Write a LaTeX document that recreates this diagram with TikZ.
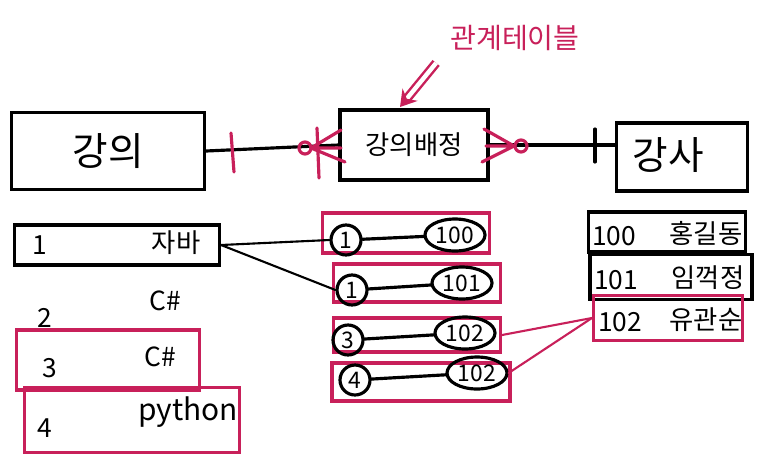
\documentclass[tikz,border=0pt]{standalone}
\usepackage{fontspec}
\setmainfont{Noto Sans CJK KR}
\usetikzlibrary{arrows.meta,shapes.geometric}
\definecolor{marker}{HTML}{C8205A}

\tikzset{
  pen/.style={line width=1.8pt, line cap=round},
  hl/.style={draw=marker, line width=1.8pt, line cap=round},
  entbox/.style={draw, pen, inner sep=0pt},
  rowbox/.style={draw, pen, inner sep=0pt},
  markbox/.style={hl, inner sep=0pt},
  celltxt/.style={font=\fontsize{15}{17}\selectfont, inner sep=0pt},
  keyring/.style={draw, pen, ellipse, inner sep=0pt, minimum width=0.6cm,
    minimum height=0.6cm, font=\fontsize{13}{15}\selectfont},
  valring/.style={draw, pen, ellipse, inner sep=0pt, minimum width=1.2cm,
    minimum height=0.64cm, font=\fontsize{13}{15}\selectfont},
}

\begin{document}
\begin{tikzpicture}[x=0.02cm, y=-0.02cm]
    \useasboundingbox (0,0) rectangle (783,474);

    % Entities
    \node[entbox, minimum width=3.86cm, minimum height=1.54cm,
      font=\fontsize{22}{24}\selectfont] (lec) at (108,151) {강의};
    \node[entbox, minimum width=2.96cm, minimum height=1.4cm,
      font=\fontsize{15}{17}\selectfont] (asg) at (414,145) {강의배정};
    \node[entbox, minimum width=2.62cm, minimum height=1.36cm] (ins) at (682,157) {};
    \node[font=\fontsize{22}{24}\selectfont] (inslbl) at (668,155) {강사};

    % Annotation
    \node[text=marker, font=\fontsize{16}{18}\selectfont] (note) at (515,38) {관계테이블};
    \coordinate (notetip) at (400,107);
    \draw[marker, line width=1.4pt, double, double distance=2.5pt,
      -{Stealth[length=9pt, width=11pt]}] (note.south west) ++(-8,6) -- (notetip);

    % Relationships
    \draw[pen] (lec.east) -- (asg.west);
    \draw[pen] (asg.east) -- (asg.east -| ins.west);

    % Cardinality marks
    \draw[hl] (231,133) -- (234,172);
    \draw[hl] (305,148) circle (6);
    \draw[hl] (311,148) -- (341,130) (311,148) -- (341,148) (311,148) -- (345,162);
    \draw[hl] (317,128) -- (319,178);
    \draw[hl] (521,146) circle (6);
    \draw[hl] (514,146) -- (484,129) (514,146) -- (486,146) (514,146) -- (482,162);
    \draw[pen] (595,129) -- (595,162);

    % Lecture rows
    \node[rowbox, minimum width=4.1cm, minimum height=0.8cm] (l1) at (117,245) {};
    \node[celltxt] (l1a) at (40,245) {1};
    \node[celltxt] (l1b) at (176,243) {자바};
    \node[celltxt] (l2a) at (45,318) {2};
    \node[celltxt] (l2b) at (165,301) {C\#};
    \node[markbox, minimum width=3.66cm, minimum height=1.2cm] (l3) at (108,360) {};
    \node[celltxt] (l3a) at (50,368) {3};
    \node[celltxt] (l3b) at (160,357) {C\#};
    \node[markbox, minimum width=4.3cm, minimum height=1.3cm] (l4) at (132,420) {};
    \node[celltxt] (l4a) at (45,428) {4};
    \node[celltxt, font=\fontsize{17}{19}\selectfont] (l4b) at (188,412) {python};

    % Assignment rows
    \node[markbox, minimum width=3.34cm, minimum height=0.8cm] (m1) at (406,233) {};
    \node[keyring] (m1a) at (346,240) {1};
    \node[valring] (m1b) at (455,235) {100};
    \draw[pen] (m1a) -- (m1b);
    \node[markbox, minimum width=3.34cm, minimum height=0.76cm] (m2) at (417,283) {};
    \node[keyring] (m2a) at (352,290) {1};
    \node[valring] (m2b) at (462,283) {101};
    \draw[pen] (m2a) -- (m2b);
    \node[markbox, minimum width=3.34cm, minimum height=0.68cm] (m3) at (417,335) {};
    \node[keyring] (m3a) at (348,340) {3};
    \node[valring] (m3b) at (465,333) {102};
    \draw[pen] (m3a) -- (m3b);
    \node[markbox, minimum width=3.56cm, minimum height=0.76cm] (m4) at (421,382) {};
    \node[keyring] (m4a) at (355,380) {4};
    \node[valring] (m4b) at (477,373) {102};
    \draw[pen] (m4a) -- (m4b);

    % Instructor rows
    \node[rowbox, minimum width=3.14cm, minimum height=0.8cm] (r1) at (667,232) {};
    \node[celltxt] (r1a) at (614,236) {100};
    \node[celltxt] (r1b) at (706,233) {홍길동};
    \node[rowbox, minimum width=3.24cm, minimum height=0.9cm] (r2) at (671,277) {};
    \node[celltxt] (r2a) at (616,280) {101};
    \node[celltxt] (r2b) at (708,278) {임꺽정};
    \node[markbox, minimum width=2.98cm, minimum height=0.9cm] (r3) at (668,318) {};
    \node[celltxt] (r3a) at (620,322) {102};
    \node[celltxt] (r3b) at (706,320) {유관순};

    % Row links
    \draw[pen, line width=1.2pt] (l1.east) -- (m1a.west);
    \draw[pen, line width=1.2pt] (l1.east) -- (m2a.west);
    \draw[hl, line width=1.2pt] (m3.east) -- (r3.west);
    \draw[hl, line width=1.2pt] (m4b.east) -- (r3.west);
\end{tikzpicture}
\end{document}
